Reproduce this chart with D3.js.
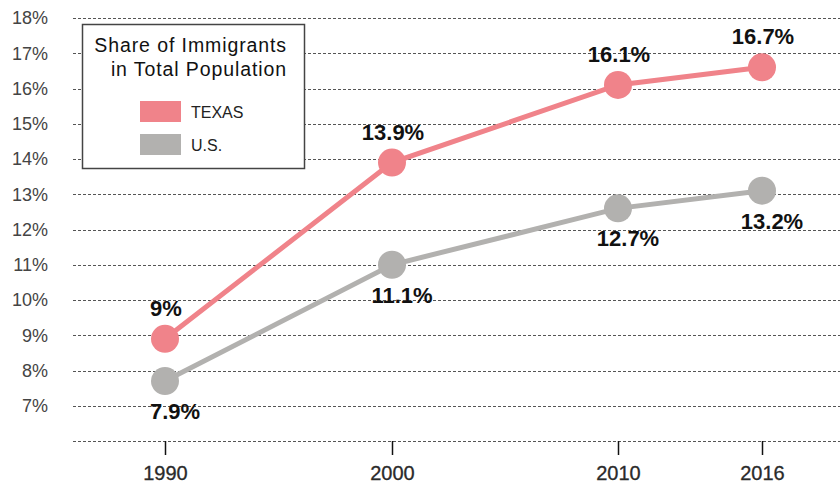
<!DOCTYPE html>
<html>
<head>
<meta charset="utf-8">
<script src="https://cdn.jsdelivr.net/npm/d3@7"></script>
<style>
  html, body { margin: 0; padding: 0; background: #fff; }
  svg { display: block; font-family: "Liberation Sans", Arial, sans-serif; }
</style>
</head>
<body>
<svg id="chart" width="840" height="485"></svg>
<script>
// ---- data ----
const years = [1990, 2000, 2010, 2016];
const texasValues = [8.9, 13.9, 16.1, 16.6];
const usValues = [7.7, 11.0, 12.6, 13.1];
const texasLabels = ["9%", "13.9%", "16.1%", "16.7%"];
const usLabels = ["7.9%", "11.1%", "12.7%", "13.2%"];
const yTicks = [6, 7, 8, 9, 10, 11, 12, 13, 14, 15, 16, 17, 18];
const legendTitle = ["Share of Immigrants", "in Total Population"];
const seriesNames = ["TEXAS", "U.S."];

// ---- styles ----
const texasColor = "#f0838a";
const usColor = "#b2b1af";

(function () {
const svg = d3.select("#chart");
const W = 840, plotLeft = 73, plotTop = 18, plotBottom = 441;

const x = d3.scaleLinear().domain(years).range([165, 392, 618, 762]);
const y = d3.scaleLinear().domain([6, 18]).range([plotBottom, plotTop]);

// grid + y axis
const yAxis = svg.append("g")
  .attr("transform", `translate(${plotLeft},0)`)
  .call(d3.axisLeft(y).tickValues(yTicks).tickSize(-(W - plotLeft)).tickPadding(25)
    .tickFormat(d => d >= 7 ? d + "%" : ""));
yAxis.select(".domain").remove();
yAxis.selectAll(".tick line")
  .attr("stroke", "#555").attr("stroke-width", 1).attr("stroke-dasharray", "3,2")
  .attr("shape-rendering", "crispEdges");
yAxis.selectAll(".tick text")
  .attr("fill", "#444").attr("font-size", 18).attr("font-family", "Liberation Sans, Arial, sans-serif");

// x axis
const xAxis = svg.append("g")
  .attr("transform", `translate(0,${plotBottom})`)
  .call(d3.axisBottom(x).tickValues(years).tickSize(14).tickPadding(11).tickFormat(d3.format("d")));
xAxis.select(".domain").remove();
xAxis.selectAll(".tick line").attr("stroke", "#111").attr("stroke-width", 1.5);
xAxis.selectAll(".tick text")
  .attr("fill", "#2a2a2a").attr("font-size", 20).attr("stroke", "#2a2a2a").attr("stroke-width", 0.3)
  .attr("font-family", "Liberation Sans, Arial, sans-serif");

// lines
const line = d3.line().x((d, i) => x(years[i])).y(d => y(d));
const series = [
  { values: texasValues, labels: texasLabels, color: texasColor, above: true },
  { values: usValues, labels: usLabels, color: usColor, above: false }
];
series.slice().reverse().forEach(s => {
  svg.append("path").datum(s.values)
    .attr("d", line).attr("fill", "none")
    .attr("stroke", s.color).attr("stroke-width", 5);
  svg.append("g").selectAll("circle").data(s.values).join("circle")
    .attr("cx", (d, i) => x(years[i])).attr("cy", d => y(d))
    .attr("r", 14).attr("fill", s.color);
});
series.forEach(s => {
  svg.append("g").selectAll("text").data(s.values).join("text")
    .attr("x", (d, i) => x(years[i]) + (s.above ? 1 : 10))
    .attr("y", d => y(d) + (s.above ? -23 : 38))
    .attr("text-anchor", "middle")
    .attr("font-size", 22).attr("font-weight", "bold").attr("fill", "#111")
    .text((d, i) => s.labels[i]);
});

// legend
const lg = svg.append("g");
lg.append("rect").attr("x", 82.5).attr("y", 24.5).attr("width", 222).attr("height", 144)
  .attr("fill", "#fff").attr("stroke", "#444").attr("stroke-width", 1.5);
lg.selectAll("text.title").data(legendTitle).join("text").attr("class", "title")
  .attr("x", 287).attr("y", (d, i) => 52 + i * 23.5)
  .attr("text-anchor", "end").attr("font-size", 19.5).attr("letter-spacing", 0.9)
  .attr("fill", "#111").text(d => d);
const legendColors = [texasColor, usColor];
seriesNames.forEach((n, i) => {
  lg.append("rect").attr("x", 140).attr("y", 101 + i * 33).attr("width", 41).attr("height", 21)
    .attr("fill", legendColors[i]);
  lg.append("text").attr("x", 191).attr("y", 118 + i * 33)
    .attr("font-size", 16).attr("fill", "#222").text(n);
});
})();
</script>
</body>
</html>
